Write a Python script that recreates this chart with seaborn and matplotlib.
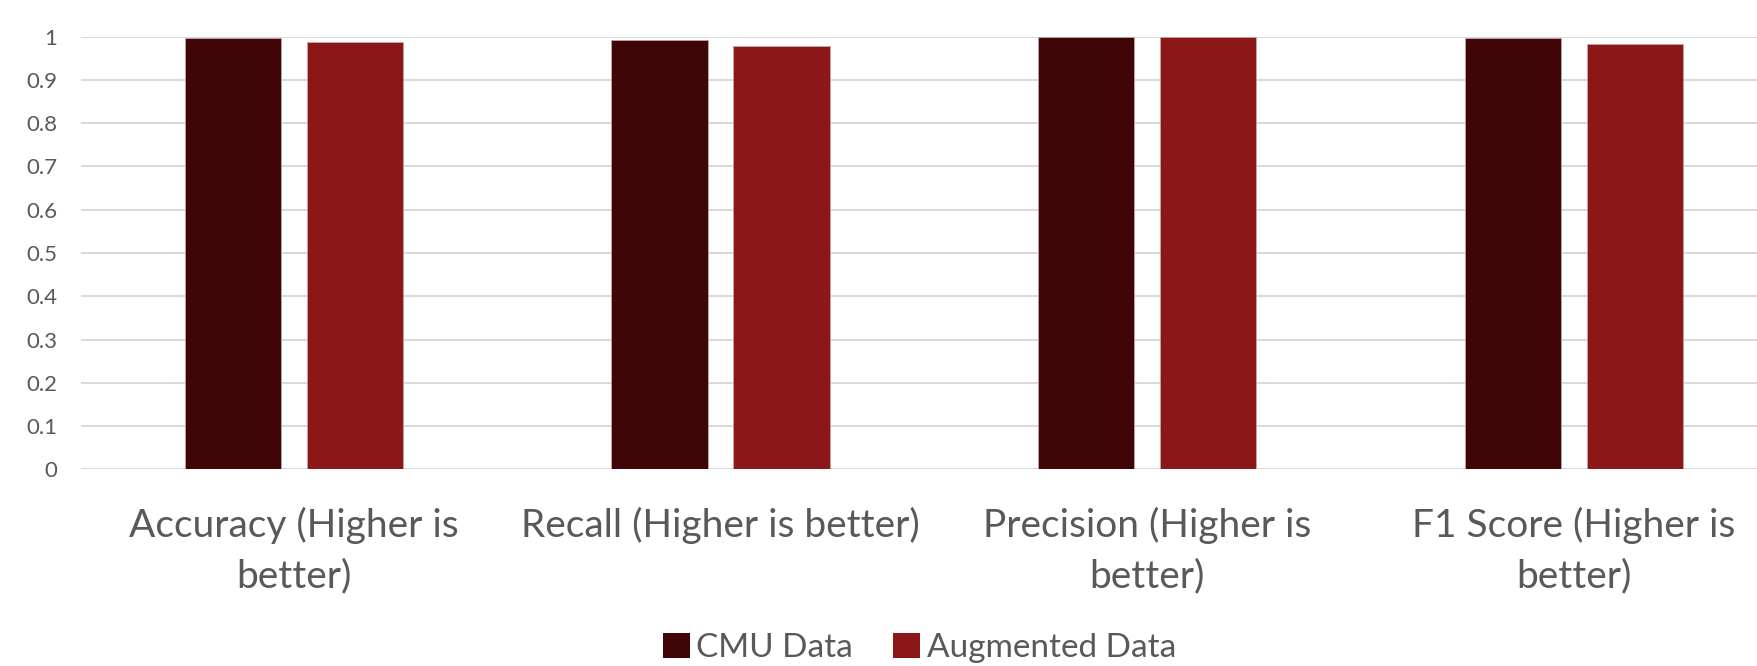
import matplotlib
matplotlib.use("Agg")
import matplotlib.pyplot as plt
import seaborn as sns
import pandas as pd
from matplotlib.patches import Patch

# Metric scores for each training set
categories = ["Accuracy (Higher is\nbetter)", "Recall (Higher is better)",
              "Precision (Higher is\nbetter)", "F1 Score (Higher is\nbetter)"]
series_names = ["CMU Data", "Augmented Data"]
cmu_values = [0.996, 0.993, 1.0, 0.996]
augmented_values = [0.988, 0.978, 1.0, 0.982]
y_ticks = [0, 0.1, 0.2, 0.3, 0.4, 0.5, 0.6, 0.7, 0.8, 0.9, 1]
y_tick_labels = ["0", "0.1", "0.2", "0.3", "0.4", "0.5", "0.6", "0.7", "0.8", "0.9", "1"]

colors = ["#400607", "#8B1718"]
text_color = "#595959"

df = pd.DataFrame({
    "metric": categories * 2,
    "series": [series_names[0]] * 4 + [series_names[1]] * 4,
    "value": cmu_values + augmented_values,
})

sns.set_theme(style="white")
plt.rcParams["font.family"] = ["Lato", "DejaVu Sans"]

fig = plt.figure(figsize=(17.58, 6.66), dpi=100)
ax = fig.add_axes([0.046, 0.2953, 1.0165 - 0.046, 0.9449 - 0.2953])

sns.barplot(data=df, x="metric", y="value", hue="series", order=categories,
            hue_order=series_names, palette=colors, saturation=1,
            width=0.572, gap=0.21, edgecolor="#c9a5a5", linewidth=0.6,
            ax=ax, legend=False)

ax.set_ylim(0, 1)
ax.set_xlim(-0.5, 3.5)
ax.set_yticks(y_ticks)
ax.set_yticklabels(y_tick_labels)
ax.yaxis.grid(True, color="#d9d9d9", linewidth=1.4)
ax.set_axisbelow(True)
for s in ["top", "right", "left", "bottom"]:
    ax.spines[s].set_visible(False)
ax.tick_params(axis="y", length=0, pad=17, labelsize=16, labelcolor=text_color)
ax.tick_params(axis="x", length=0, pad=27, labelsize=28, labelcolor=text_color)
for lbl in ax.get_xticklabels():
    lbl.set_linespacing(1.5)
ax.set_xlabel("")
ax.set_ylabel("")

handles = [Patch(facecolor=c, edgecolor="none") for c in colors]
fig.legend(handles, series_names, loc="center", bbox_to_anchor=(0.523, 0.027),
           ncol=2, frameon=False, fontsize=24, labelcolor=text_color,
           handlelength=0.8, handleheight=0.8, handletextpad=0.2,
           columnspacing=1.2, borderpad=0)

fig.savefig("out.png", dpi=100)
